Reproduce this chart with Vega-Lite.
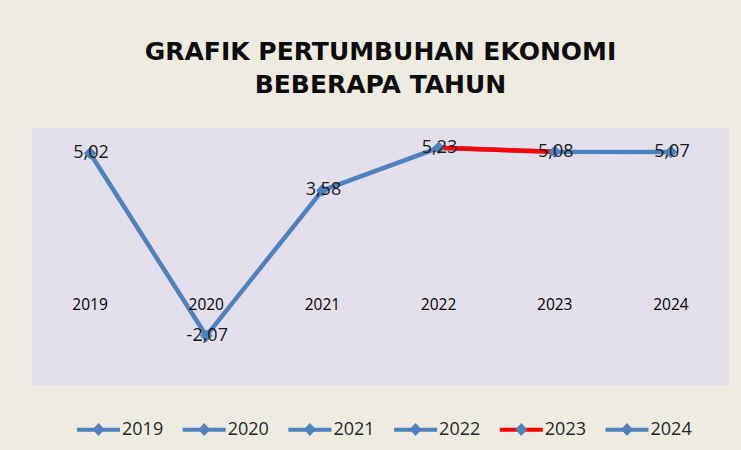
{
  "$schema": "https://vega.github.io/schema/vega-lite/v6.json",
  "autosize": {"type": "none"},
  "width": 697,
  "height": 257.5,
  "padding": {"left": 32, "top": 128, "right": 12, "bottom": 64},
  "background": "#EEECE1",
  "title": {
    "text": ["GRAFIK PERTUMBUHAN EKONOMI", "BEBERAPA TAHUN"],
    "font": "DejaVu Sans",
    "fontSize": 25,
    "fontWeight": "bold",
    "color": "#0d0d0d",
    "lineHeight": 33.5,
    "anchor": "middle",
    "offset": 30
  },
  "data": {
    "values": [
      {"year": "2019", "value": 5.02},
      {"year": "2020", "value": -2.07},
      {"year": "2021", "value": 3.58},
      {"year": "2022", "value": 5.23},
      {"year": "2023", "value": 5.08},
      {"year": "2024", "value": 5.07}
    ]
  },
  "encoding": {
    "x": {"field": "year", "type": "ordinal", "scale": {"type": "point", "padding": 0.5}, "axis": null},
    "y": {"field": "value", "type": "quantitative", "scale": {"domain": [-4, 6], "nice": false, "zero": false}, "axis": null}
  },
  "layer": [
    {
      "mark": {"type": "line", "color": "#4F81BD", "strokeWidth": 4.5}
    },
    {
      "transform": [{"filter": {"field": "year", "oneOf": ["2022", "2023"]}}],
      "mark": {"type": "line", "color": "#FF0000", "strokeWidth": 4.5}
    },
    {
      "mark": {"type": "line", "strokeWidth": 4},
      "encoding": {
        "stroke": {
          "field": "year",
          "type": "nominal",
          "scale": {
            "domain": ["2019", "2020", "2021", "2022", "2023", "2024"],
            "range": ["#4F81BD", "#4F81BD", "#4F81BD", "#4F81BD", "#FF0000", "#4F81BD"]
          },
          "legend": {
            "title": null,
            "orient": "none",
            "legendX": 43,
            "legendY": 278,
            "direction": "horizontal",
            "columns": 6,
            "padding": 0,
            "symbolType": "M-1,0H1",
            "symbolSize": 1849,
            "symbolStrokeWidth": 4,
            "symbolFillColor": "transparent",
            "labelFont": "Open Sans",
            "labelFontSize": 18,
            "labelColor": "#262626",
            "labelOffset": 0,
            "columnPadding": 10.7,
            "zindex": 1,
            "encode": {
              "symbols": {
                "update": {
                  "strokeWidth": {"value": 4},
                  "size": {"value": 1849},
                  "fill": {"value": "transparent"}
                }
              }
            }
          }
        }
      }
    },
    {
      "mark": {"type": "point", "shape": "diamond", "filled": true, "size": 160, "opacity": 1},
      "encoding": {
        "fill": {
          "field": "year",
          "type": "nominal",
          "scale": {"range": ["#4F81BD", "#4F81BD", "#4F81BD", "#4F81BD", "#4F81BD", "#4F81BD"]},
          "legend": {
            "title": null,
            "orient": "none",
            "legendX": 43,
            "legendY": 278,
            "direction": "horizontal",
            "columns": 6,
            "padding": 0,
            "symbolType": "M-1,0L-1,0M1,0L1,0M0,-0.3L0.28,0L0,0.3L-0.28,0Z",
            "symbolSize": 1849,
            "symbolStrokeWidth": 4,
            "symbolStrokeColor": "transparent",
            "labelFont": "Open Sans",
            "labelFontSize": 18,
            "labelColor": "#262626",
            "labelOpacity": 0,
            "labelOffset": 0,
            "columnPadding": 10.7,
            "zindex": 2,
            "encode": {
              "symbols": {
                "update": {
                  "strokeWidth": {"value": 4},
                  "size": {"value": 1849},
                  "stroke": {"value": "transparent"}
                }
              }
            }
          }
        }
      }
    },
    {
      "mark": {"type": "text", "font": "Open Sans", "fontSize": 18, "color": "#1a1a1a", "align": "center", "baseline": "middle", "dx": 1},
      "encoding": {
        "text": {"field": "value", "type": "quantitative", "format": ".2f"}
      }
    },
    {
      "mark": {"type": "text", "font": "Open Sans", "fontSize": 15.5, "color": "#000000", "align": "center", "baseline": "middle", "dy": 22.5},
      "encoding": {
        "y": {"datum": 0},
        "text": {"field": "year", "type": "nominal"}
      }
    }
  ],
  "config": {
    "view": {"fill": "#E4DFEC", "stroke": null},
    "locale": {
      "number": {"decimal": ",", "thousands": ".", "grouping": [3], "currency": ["Rp", ""], "minus": "-"}
    }
  }
}
